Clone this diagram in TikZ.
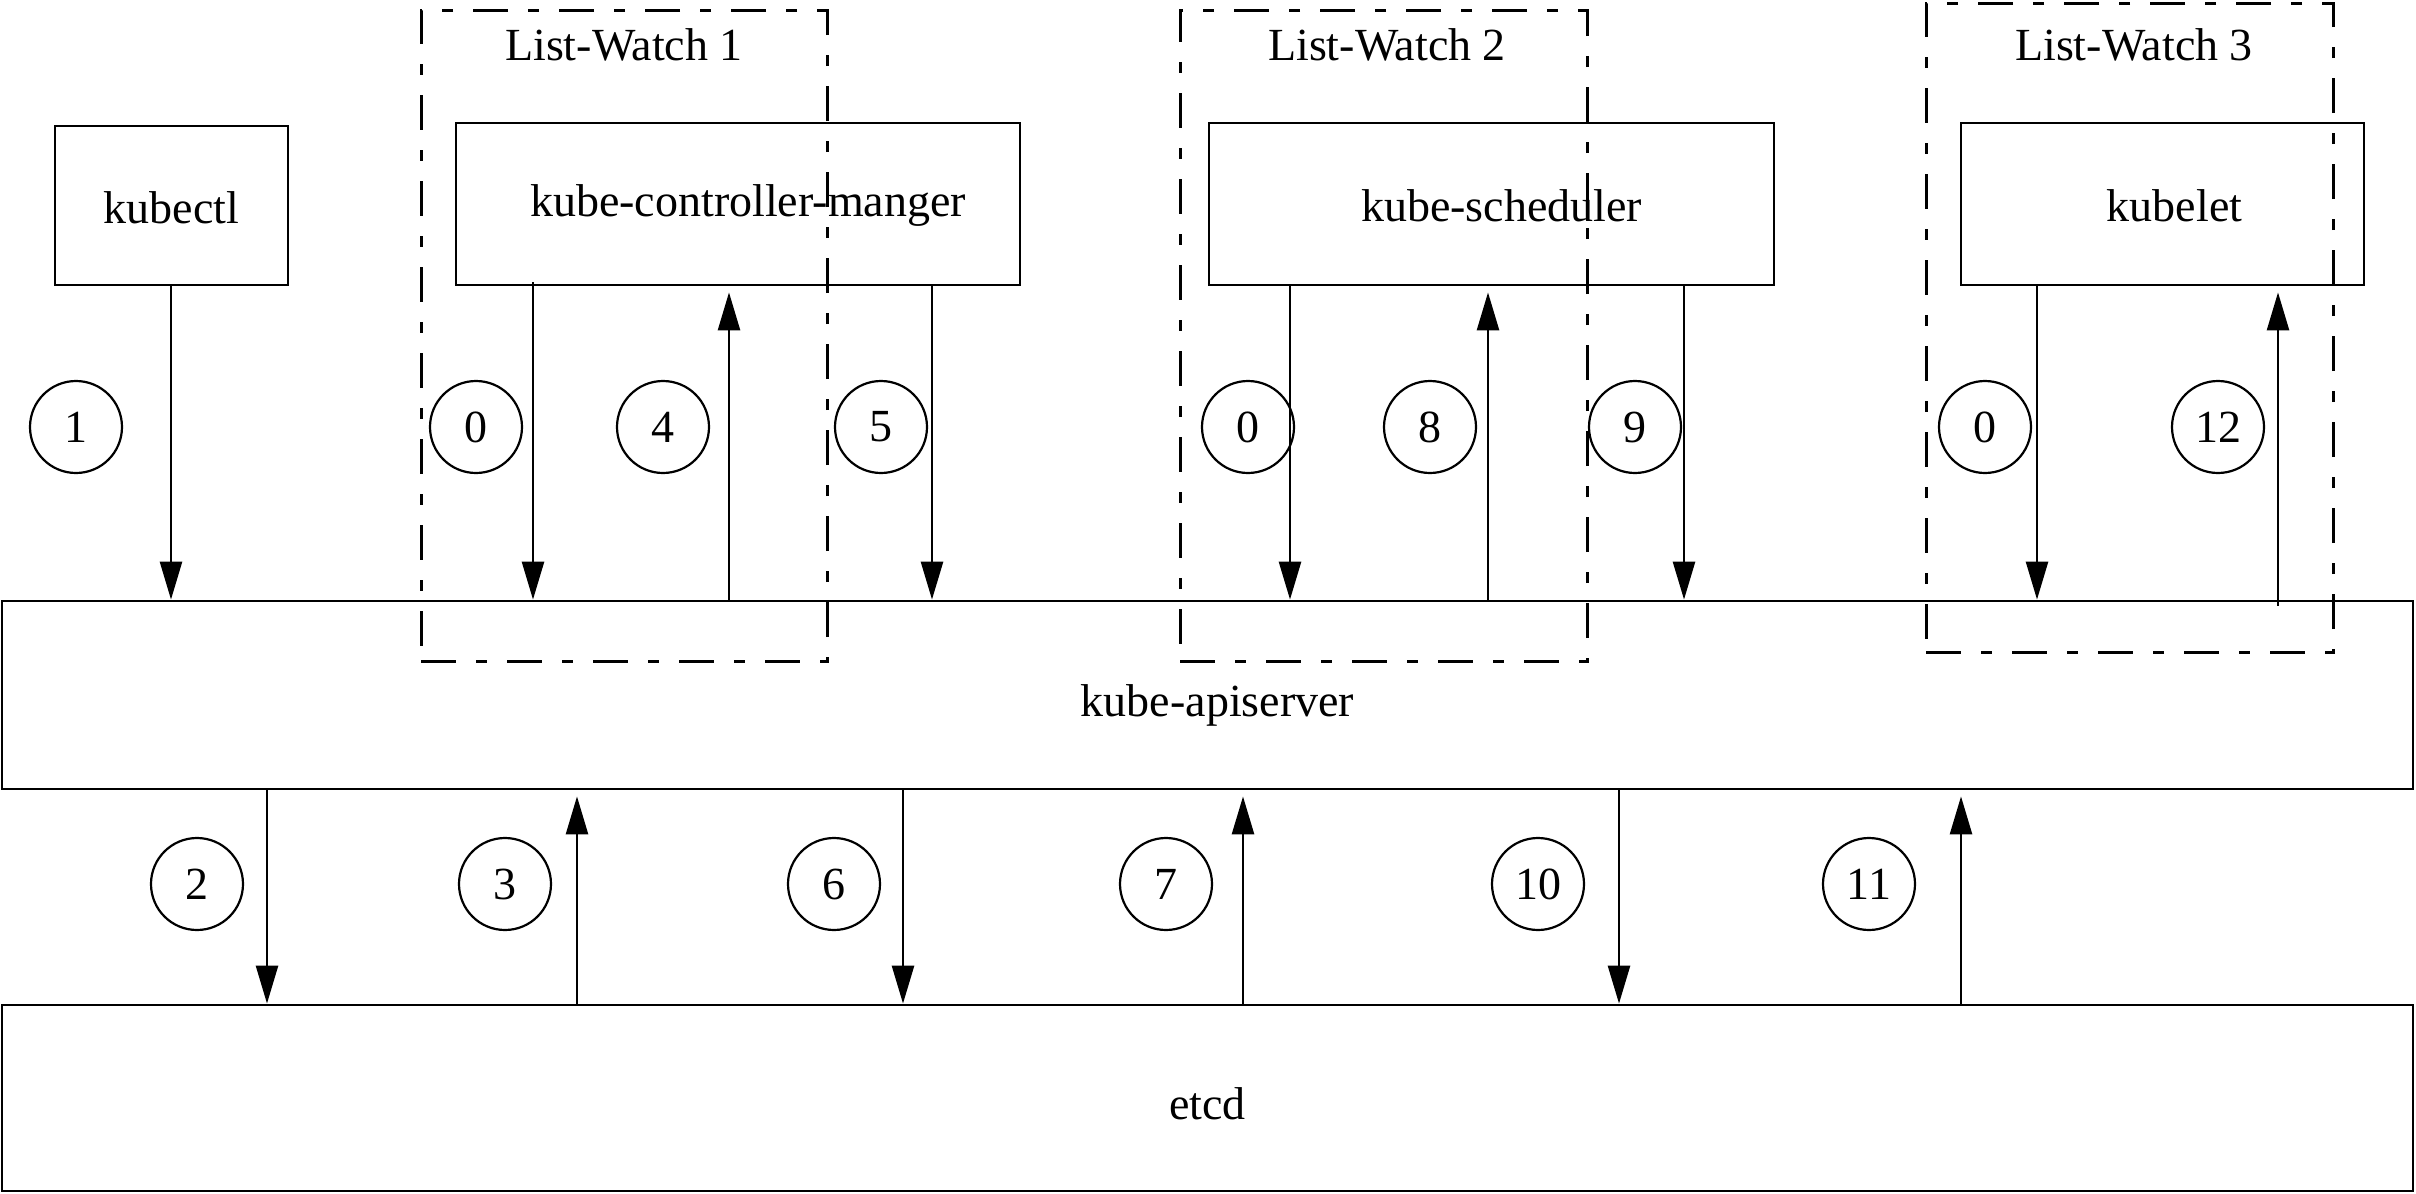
\documentclass[tikz,border=0pt]{standalone}
\usepackage{fontspec}
\setmainfont{Liberation Serif}
\usetikzlibrary{arrows.meta,fit,calc}
\begin{document}
\begin{tikzpicture}[x=0.5pt,y=-0.5pt,
  every node/.style={font=\fontsize{23}{27}\selectfont},
  box/.style={draw,line width=1.4pt,inner sep=0pt},
  lwbox/.style={draw,line width=1.5pt,inner sep=0pt,dash pattern=on 17.5pt off 10pt on 5.5pt off 10pt},
  num/.style={draw,circle,line width=1.1pt,minimum size=46pt,inner sep=0pt},
  arr/.style={line width=1.3pt,-{Triangle[length=19pt,width=11pt]}},
]
\useasboundingbox (0,0) rectangle (2416,1194);
% main boxes
\node[box,fit={(55,126)(288,285)},label={[yshift=-1pt]center:kubectl}] (kubectl) {};
\node[box,fit={(456,123)(1020,285)},label={[xshift=5pt,yshift=-1pt]center:kube-controller-manger}] (kcm) {};
\node[box,fit={(1209,123)(1774,285)},label={[xshift=5pt,yshift=-1pt]center:kube-scheduler}] (ks) {};
\node[box,fit={(1961,123)(2364,285)},label={[xshift=6pt,yshift=-1pt]center:kubelet}] (kl) {};
\node[box,fit={(2,601)(2413,789)},label={[xshift=5pt,yshift=-5pt]center:kube-apiserver}] (api) {};
\node[box,fit={(2,1005)(2413,1191)},label={[yshift=-3pt]center:etcd}] (etcd) {};
% list-watch frames
\node[lwbox,fit={(421,10)(827,661)}] (lw1) {};
\node[lwbox,fit={(1180,10)(1587,661)}] (lw2) {};
\node[lwbox,fit={(1926,3)(2333,652)}] (lw3) {};
\node (lw1t) at (624,45) {List-Watch 1};
\node (lw2t) at (1387,45) {List-Watch 2};
\node (lw3t) at (2134,45) {List-Watch 3};
% arrow x positions
\coordinate (x1) at (171,0);
\coordinate (xc0) at (533,0);
\coordinate (x4) at (729,0);
\coordinate (x5) at (932,0);
\coordinate (xs0) at (1290,0);
\coordinate (x8) at (1488,0);
\coordinate (x9) at (1684,0);
\coordinate (xk0) at (2037,0);
\coordinate (x12) at (2278,0);
\coordinate (x2) at (267,0);
\coordinate (x3) at (577,0);
\coordinate (x6) at (903,0);
\coordinate (x7) at (1243,0);
\coordinate (x10) at (1619,0);
\coordinate (x11) at (1961,0);
% top arrows
\draw[arr] (x1 |- kubectl.south) -- (x1 |- api.north);
\draw[arr] ([yshift=2pt]xc0 |- kcm.south) -- (xc0 |- api.north);
\draw[arr] (x4 |- api.north) -- ([yshift=-3pt]x4 |- kcm.south);
\draw[arr] (x5 |- kcm.south) -- (x5 |- api.north);
\draw[arr] (xs0 |- ks.south) -- (xs0 |- api.north);
\draw[arr] (x8 |- api.north) -- ([yshift=-3pt]x8 |- ks.south);
\draw[arr] (x9 |- ks.south) -- (x9 |- api.north);
\draw[arr] (xk0 |- kl.south) -- (xk0 |- api.north);
\draw[arr] ([yshift=-3pt]x12 |- api.north) -- ([yshift=-3pt]x12 |- kl.south);
% bottom arrows
\draw[arr] (x2 |- api.south) -- (x2 |- etcd.north);
\draw[arr] (x3 |- etcd.north) -- ([yshift=-3pt]x3 |- api.south);
\draw[arr] (x6 |- api.south) -- (x6 |- etcd.north);
\draw[arr] (x7 |- etcd.north) -- ([yshift=-3pt]x7 |- api.south);
\draw[arr] (x10 |- api.south) -- (x10 |- etcd.north);
\draw[arr] (x11 |- etcd.north) -- ([yshift=-3pt]x11 |- api.south);
% step numbers
\node[num] (n1) at (76,427) {1};
\node[num] (n0a) at (476,427) {0};
\node[num] (n4) at (663,427) {4};
\node[num] (n5) at (881,427) {5};
\node[num] (n0b) at (1248,427) {0};
\node[num] (n8) at (1430,427) {8};
\node[num] (n9) at (1635,427) {9};
\node[num] (n0c) at (1985,427) {0};
\node[num] (n12) at (2218,427) {12};
\node[num] (n2) at (197,884) {2};
\node[num] (n3) at (505,884) {3};
\node[num] (n6) at (834,884) {6};
\node[num] (n7) at (1166,884) {7};
\node[num] (n10) at (1538,884) {10};
\node[num] (n11) at (1869,884) {11};
\end{tikzpicture}
\end{document}
